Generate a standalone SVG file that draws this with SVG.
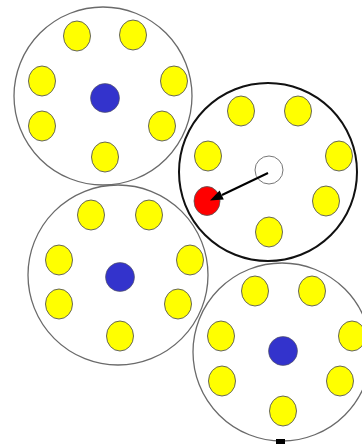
<svg xmlns="http://www.w3.org/2000/svg" width="362" height="444" viewBox="0 0 362 444">
<style>
.ring{fill:none;stroke:#6a6a6a;stroke-width:1.3}
.ring.active{stroke:#111;stroke-width:2}
.y{fill:#ffff00;stroke:#555;stroke-width:0.9}
.b{fill:#3333cc;stroke:#555;stroke-width:0.6}
.w{fill:#fff;stroke:#777;stroke-width:1}
.r{fill:#ff0000;stroke:#555;stroke-width:0.8}
</style>
<rect width="362" height="444" fill="#fff"/>
<g id="cell1">
<circle class="ring" cx="103" cy="96" r="89"/>
<ellipse class="y" cx="77" cy="36" rx="13.5" ry="15"/>
<ellipse class="y" cx="133" cy="35" rx="13.5" ry="15"/>
<ellipse class="y" cx="42" cy="81" rx="13.5" ry="15"/>
<ellipse class="y" cx="174" cy="81" rx="13.5" ry="15"/>
<ellipse class="y" cx="42" cy="126" rx="13.5" ry="15"/>
<ellipse class="y" cx="162" cy="126" rx="13.5" ry="15"/>
<ellipse class="y" cx="105" cy="157" rx="13.5" ry="15"/>
<circle class="b" cx="105" cy="98" r="14.5"/>
</g>
<g id="cell3">
<circle class="ring" cx="118" cy="275" r="90"/>
<ellipse class="y" cx="91" cy="215" rx="13.5" ry="15"/>
<ellipse class="y" cx="149" cy="215" rx="13.5" ry="15"/>
<ellipse class="y" cx="59" cy="260" rx="13.5" ry="15"/>
<ellipse class="y" cx="190" cy="260" rx="13.5" ry="15"/>
<ellipse class="y" cx="59" cy="304" rx="13.5" ry="15"/>
<ellipse class="y" cx="178" cy="304" rx="13.5" ry="15"/>
<ellipse class="y" cx="120" cy="336" rx="13.5" ry="15"/>
<circle class="b" cx="120" cy="277" r="14.5"/>
</g>
<g id="cell4">
<circle class="ring" cx="282" cy="352" r="89"/>
<ellipse class="y" cx="255" cy="291" rx="13.5" ry="15"/>
<ellipse class="y" cx="312" cy="291" rx="13.5" ry="15"/>
<ellipse class="y" cx="221" cy="336" rx="13.5" ry="15"/>
<ellipse class="y" cx="352" cy="336" rx="13.5" ry="15"/>
<ellipse class="y" cx="222" cy="381" rx="13.5" ry="15"/>
<ellipse class="y" cx="340" cy="381" rx="13.5" ry="15"/>
<ellipse class="y" cx="283" cy="411" rx="13.5" ry="15"/>
<circle class="b" cx="283" cy="351" r="14.5"/>
<rect x="276" y="439" width="9" height="5" fill="#000"/>
</g>
<g id="cell2">
<circle class="ring active" cx="268" cy="172" r="89"/>
<ellipse class="y" cx="241" cy="111" rx="13.5" ry="15"/>
<ellipse class="y" cx="298" cy="111" rx="13.5" ry="15"/>
<ellipse class="y" cx="208" cy="156" rx="13.5" ry="15"/>
<ellipse class="y" cx="339" cy="156" rx="13.5" ry="15"/>
<ellipse class="y" cx="326" cy="201" rx="13.5" ry="15"/>
<ellipse class="y" cx="269" cy="232" rx="13.5" ry="15"/>
<circle class="w" cx="269" cy="170" r="14"/>
<ellipse class="r" cx="207" cy="201" rx="13" ry="14.5"/>
</g>
<g id="connectors">
<line x1="268" y1="173" x2="222" y2="195" stroke="#000" stroke-width="2"/>
<polygon points="210,200.5 223.8,199.4 219.6,190.4" fill="#000"/>
</g>
</svg>
